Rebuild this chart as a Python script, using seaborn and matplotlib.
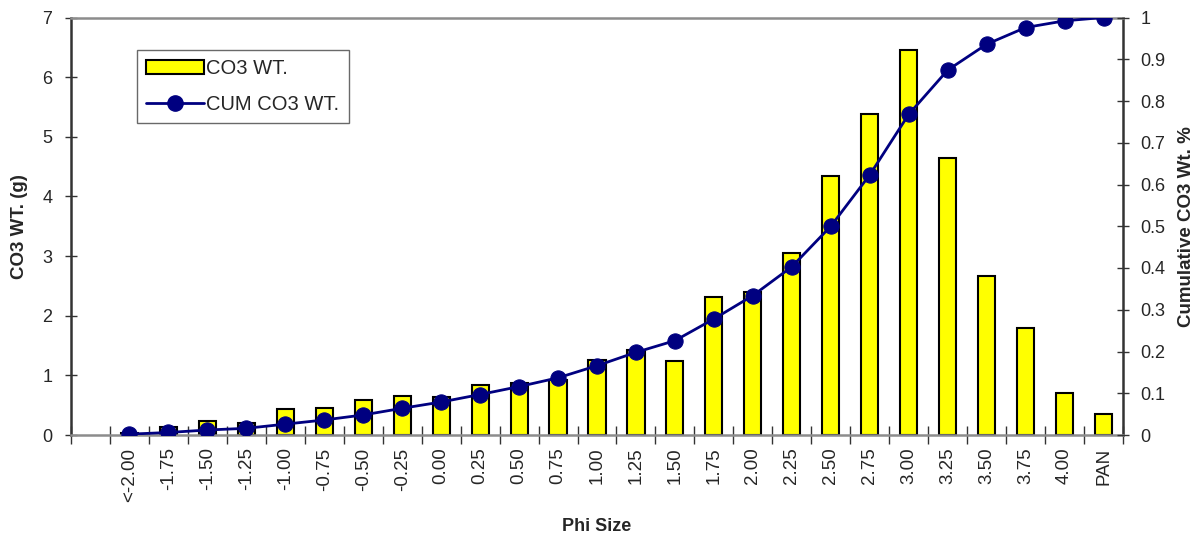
import numpy as np
import pandas as pd
import matplotlib
matplotlib.use("Agg")
import matplotlib.pyplot as plt
import seaborn as sns
from matplotlib.patches import Patch
from matplotlib.lines import Line2D

# -----------------------------
# Data
# -----------------------------
phi_labels = ["<-2.00", "-1.75", "-1.50", "-1.25", "-1.00", "-0.75", "-0.50",
              "-0.25", "0.00", "0.25", "0.50", "0.75", "1.00", "1.25", "1.50",
              "1.75", "2.00", "2.25", "2.50", "2.75", "3.00", "3.25", "3.50",
              "3.75", "4.00", "PAN"]

co3_wt = [0.03, 0.13, 0.24, 0.20, 0.44, 0.46, 0.59, 0.66, 0.63, 0.84, 0.88,
          0.93, 1.25, 1.43, 1.24, 2.32, 2.39, 3.05, 4.35, 5.38, 6.46, 4.64,
          2.67, 1.79, 0.70, 0.36]

cum_co3 = [0.002, 0.006, 0.012, 0.016, 0.026, 0.036, 0.048, 0.064, 0.079,
           0.097, 0.116, 0.137, 0.166, 0.198, 0.226, 0.278, 0.334, 0.403,
           0.500, 0.623, 0.768, 0.874, 0.936, 0.976, 0.992, 1.000]

left_ticks = [0, 1, 2, 3, 4, 5, 6, 7]
right_ticks = [0, 0.1, 0.2, 0.3, 0.4, 0.5, 0.6, 0.7, 0.8, 0.9, 1]

df = pd.DataFrame({"Phi": phi_labels, "CO3": co3_wt, "CUM": cum_co3})
order = [""] + phi_labels   # first slot left empty, as in the original

# -----------------------------
# Style
# -----------------------------
sns.set_style("white")
plt.rcParams["font.family"] = ["Liberation Sans", "DejaVu Sans"]

fig = plt.figure(figsize=(12, 5.37), dpi=100)
ax = fig.add_axes([71 / 1200, 102 / 537, 1052 / 1200, 417.5 / 537])

# -----------------------------
# Bars
# -----------------------------
sns.barplot(data=df, x="Phi", y="CO3", order=order, color="#FFFF00",
            saturation=1, width=0.44, edgecolor="black", linewidth=1.5,
            errorbar=None, ax=ax)

ax.set_xlim(-0.5, len(order) - 0.5)
ax.set_ylim(0, 7)
ax.set_yticks(left_ticks)
ax.set_yticklabels([str(t) for t in left_ticks], fontsize=13)
ax.set_xticks(range(len(order)))
ax.set_xticklabels(order, rotation=90, fontsize=13.5)
ax.set_xticks(np.arange(-0.5, len(order)), minor=True)
ax.tick_params(axis="x", which="major", bottom=True, length=0, pad=9)
ax.tick_params(axis="x", which="minor", bottom=True, direction="inout",
               length=13, width=1, color="#333333")
ax.tick_params(axis="y", left=True, direction="inout", length=9, width=1,
               color="#333333", pad=9)
ax.set_xlabel("Phi Size", fontsize=13, fontweight="bold", labelpad=12)
ax.set_ylabel("CO3 WT. (g)", fontsize=13.5, fontweight="bold", labelpad=10)

for side in ["left", "right"]:
    ax.spines[side].set_color("#333333")
    ax.spines[side].set_linewidth(1.8)
for side in ["top", "bottom"]:
    ax.spines[side].set_color("#8c8c8c")
    ax.spines[side].set_linewidth(1.8)

# -----------------------------
# Cumulative line
# -----------------------------
ax2 = ax.twinx()
sns.lineplot(x=np.arange(1, len(order)), y=cum_co3, color="#000080",
             linewidth=2, marker="o", markersize=11, markeredgecolor="#000080",
             ax=ax2)
ax2.set_ylim(0, 1)
ax2.set_yticks(right_ticks)
ax2.set_yticklabels([f"{t:g}" for t in right_ticks], fontsize=13)
ax2.tick_params(axis="y", right=True, direction="inout", length=9, width=1,
                color="#333333", pad=8)
ax2.set_ylabel("Cumulative CO3 Wt. %", fontsize=13.5, fontweight="bold",
               labelpad=9)
for side in ["left", "right", "top", "bottom"]:
    ax2.spines[side].set_visible(False)

# -----------------------------
# Legend
# -----------------------------
handles = [Patch(facecolor="#FFFF00", edgecolor="black", linewidth=1.5),
           Line2D([0], [0], color="#000080", linewidth=2, marker="o",
                  markersize=11)]
leg = ax2.legend(handles, ["CO3 WT.", "CUM CO3 WT."], loc="upper left",
                 bbox_to_anchor=(0.0627, 0.922), borderaxespad=0,
                 fontsize=14.5, frameon=True, fancybox=False,
                 edgecolor="#444444", handlelength=2.9, handletextpad=0.1,
                 labelspacing=0.85, borderpad=0.45)
leg.get_frame().set_linewidth(1)

plt.savefig("out.png", dpi=100)
